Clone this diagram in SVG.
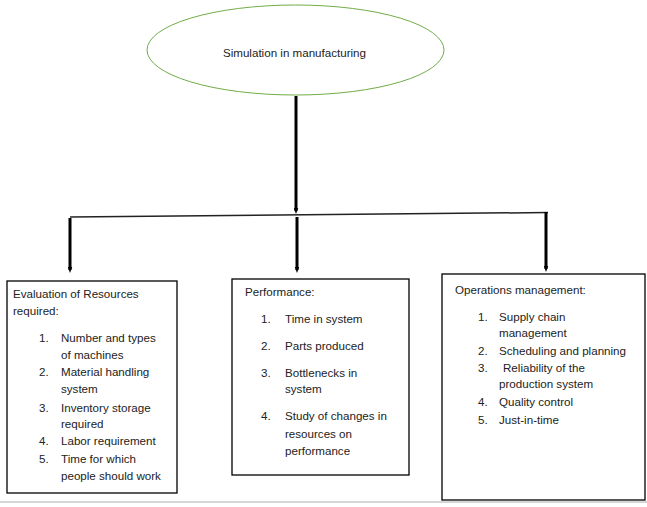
<svg xmlns="http://www.w3.org/2000/svg" width="647" height="507" viewBox="0 0 647 507">
<style>
text{font-family:"Liberation Sans",Arial,sans-serif;font-size:11.6px;fill:#222}
.box{fill:#fff;stroke:#000;stroke-width:1.3}
.arr{stroke:#000;stroke-width:3;fill:none;marker-end:url(#ah)}
</style>
<defs>
<marker id="ah" markerWidth="6" markerHeight="5" refX="2" refY="1.5" orient="auto" markerUnits="userSpaceOnUse" viewBox="0 0 4 3">
<path d="M0,0 L4,1.5 L0,3 Z" fill="#000"/>
</marker>
</defs>
<rect width="647" height="507" fill="#fff"/>
<line x1="0" y1="502" x2="647" y2="502" stroke="#c8c8c8" stroke-width="1.5"/>
<g id="root">
<ellipse cx="295.5" cy="50" rx="148.5" ry="45" fill="#fff" stroke="#70ad47" stroke-width="1"/>
<text x="294.5" y="57" text-anchor="middle">Simulation in manufacturing</text>
</g>
<g id="connectors">
<line class="arr" x1="296" y1="96" x2="296" y2="211"/>
<line x1="70" y1="217" x2="548" y2="212.5" stroke="#222" stroke-width="1.5"/>
<line class="arr" x1="70" y1="218" x2="70" y2="270"/>
<line class="arr" x1="297" y1="217" x2="297" y2="270"/>
<line class="arr" x1="546" y1="212" x2="546" y2="269"/>
</g>
<g id="resources">
<rect class="box" x="7" y="281" width="170" height="212"/>
<text x="13" y="298">Evaluation of Resources</text>
<text x="13" y="315">required:</text>
<text x="39" y="342">1.</text><text x="61" y="342">Number and types</text>
<text x="61" y="359">of machines</text>
<text x="39" y="376">2.</text><text x="61" y="376">Material handling</text>
<text x="61" y="393">system</text>
<text x="39" y="412">3.</text><text x="61" y="412">Inventory storage</text>
<text x="61" y="428">required</text>
<text x="39" y="445">4.</text><text x="61" y="445">Labor requirement</text>
<text x="39" y="463">5.</text><text x="61" y="463">Time for which</text>
<text x="61" y="480">people should work</text>
</g>
<g id="performance">
<rect class="box" x="232" y="279" width="177" height="196"/>
<text x="245" y="296">Performance:</text>
<text x="261" y="323">1.</text><text x="285" y="323">Time in system</text>
<text x="261" y="350">2.</text><text x="285" y="350">Parts produced</text>
<text x="261" y="377">3.</text><text x="285" y="377">Bottlenecks in</text>
<text x="285" y="393">system</text>
<text x="261" y="420">4.</text><text x="285" y="420">Study of changes in</text>
<text x="285" y="438">resources on</text>
<text x="285" y="455">performance</text>
</g>
<g id="operations">
<rect class="box" x="442" y="274" width="203" height="226"/>
<text x="455" y="294">Operations management:</text>
<text x="478" y="321">1.</text><text x="499" y="321">Supply chain</text>
<text x="499" y="337">management</text>
<text x="478" y="355">2.</text><text x="499" y="355">Scheduling and planning</text>
<text x="478" y="372">3.</text><text x="503" y="372">Reliability of the</text>
<text x="499" y="388">production system</text>
<text x="478" y="406">4.</text><text x="499" y="406">Quality control</text>
<text x="478" y="424">5.</text><text x="499" y="424">Just-in-time</text>
</g>
</svg>
